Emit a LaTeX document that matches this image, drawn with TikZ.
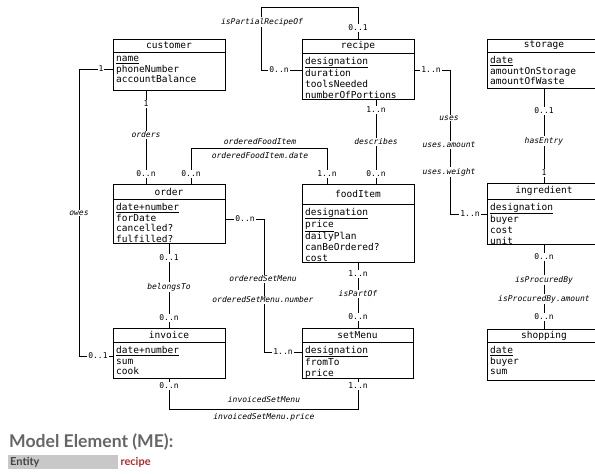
\documentclass[tikz,border=0pt]{standalone}
\usepackage{fontspec}
\setmonofont{DejaVu Sans Mono}
\newfontfamily\latofont{Lato}
\usetikzlibrary{calc}
\definecolor{headgray}{HTML}{666666}
\definecolor{entgray}{HTML}{C8C8C8}
\definecolor{enttext}{HTML}{444444}
\definecolor{recipered}{HTML}{B5292A}
\newcommand\umlbox[8]{%
  \node[entbox, minimum width={#4-#2}, minimum height={#6-#3}] (#1) at (#2,#3) {};
  \draw[line width=0.9pt] (#2,#5) -- (#4,#5);
  \node[boxtitle] at ({(#2+#4)/2},{(#3+#5)/2}) {#7};
  \node[attrs] at ({#2+3},{#5+3.8}) {#8};
}
\begin{document}
\begin{tikzpicture}[x=1pt,y=-1pt,
  boxtitle/.style={font=\ttfamily\fontsize{9.5}{11}\selectfont, inner sep=0pt},
  attrs/.style={font=\ttfamily\fontsize{9.5}{10.8}\selectfont, align=left, anchor=north west, inner sep=0pt},
  mult/.style={font=\ttfamily\fontsize{8}{9}\selectfont, fill=white, inner sep=1pt},
  rel/.style={font=\ttfamily\itshape\fontsize{8}{9}\selectfont, fill=white, inner sep=1pt},
  conn/.style={line width=0.8pt},
  entbox/.style={draw, line width=0.9pt, anchor=north west, inner sep=0pt}
]
\useasboundingbox (0,0) rectangle (595,474);
\clip (0,0) rectangle (595,474);

% boxes
\umlbox{customer}{113}{39}{225}{52}{90}{customer}{\underline{name}\\phoneNumber\\accountBalance}
\umlbox{recipe}{302}{39}{414}{53}{99}{recipe}{\underline{designation}\\duration\\toolsNeeded\\numberOfPortions}
\umlbox{storage}{487}{39}{601}{52}{88}{storage}{\underline{date}\\amountOnStorage\\amountOfWaste}
\umlbox{order}{113}{184}{225}{199}{243}{order}{\underline{date+number}\\forDate\\cancelled?\\fulfilled?}
\umlbox{foodItem}{302}{184}{414}{204}{262}{foodItem}{\underline{designation}\\\underline{price}\\dailyPlan\\canBeOrdered?\\cost}
\umlbox{ingredient}{487}{183}{601}{199}{244}{ingredient}{\underline{designation}\\buyer\\cost\\unit}
\umlbox{invoice}{113}{328}{225}{342}{378}{invoice}{\underline{date+number}\\sum\\cook}
\umlbox{setMenu}{302}{328}{413}{342}{378}{setMenu}{\underline{designation}\\fromTo\\price}
\umlbox{shopping}{487}{329}{601}{342}{380}{shopping}{\underline{date}\\buyer\\sum}

% attachment points
\coordinate (r-w) at ($(recipe.north west)+(0,31)$);
\coordinate (r-e) at ($(recipe.north east)+(0,31)$);
\coordinate (r-s) at ($(recipe.south west)+(74,0)$);
\coordinate (cu-s) at ($(customer.south west)+(33,0)$);
\coordinate (cu-w) at ($(customer.north west)+(0,30)$);
\coordinate (o-n2) at ($(order.north west)+(78,0)$);
\coordinate (o-e) at ($(order.north east)+(0,35)$);
\coordinate (f-n1) at ($(foodItem.north west)+(25,0)$);
\coordinate (in-w) at ($(ingredient.north west)+(0,31)$);
\coordinate (i-w) at ($(invoice.north west)+(0,28)$);
\coordinate (s-w) at ($(setMenu.north west)+(0,24)$);

% connectors
\draw[conn] (r-w) -- ++(-41,0) |- ($(recipe.north)+(0,-32)$) -- (recipe.north);
\draw[conn] (cu-s) -- (cu-s |- order.north);
\draw[conn] (o-n2) -- ++(0,-36) -| (f-n1);
\draw[conn] (cu-w) -- ++(-34,0) |- (i-w);
\draw[conn] (order.south) -- (invoice.north);
\draw[conn] (o-e) -- ++(38,0) |- (s-w);
\draw[conn] (r-s) -- (r-s |- foodItem.north);
\draw[conn] (r-e) -- ++(35,0) |- (in-w);
\draw[conn] (storage.south) -- (ingredient.north);
\draw[conn] (foodItem.south) -- (foodItem.south |- setMenu.north);
\draw[conn] (ingredient.south) -- (shopping.north);
\draw[conn] (invoice.south) -- ++(0,30) -| (setMenu.south);

% labels: isPartialRecipeOf
\node[rel] at (262,22) {isPartialRecipeOf};
\node[mult] at (279,70) {0..n};
\node[mult] at (358,28) {0..1};
% orders
\node[mult] at (146,104) {1};
\node[rel] at (146,135) {orders};
\node[mult] at (146,174) {0..n};
% orderedFoodItem
\node[mult] at (191,174) {0..n};
\node[mult] at (327,174) {1..n};
\node[rel] at (260,142) {orderedFoodItem};
\node[rel] at (260,156) {orderedFoodItem.date};
% owes
\node[mult] at (101,69) {1};
\node[rel] at (79,213) {owes};
\node[mult] at (98,356) {0..1};
% belongsTo
\node[mult] at (169,258) {0..1};
\node[rel] at (169,287) {belongsTo};
\node[mult] at (169,318) {0..n};
% orderedSetMenu
\node[mult] at (245,219) {0..n};
\node[rel] at (263,279) {orderedSetMenu};
\node[rel] at (263,300) {orderedSetMenu.number};
\node[mult] at (283,352) {1..n};
% describes
\node[mult] at (376,110) {1..n};
\node[rel] at (376,142) {describes};
\node[mult] at (376,174) {0..n};
% uses
\node[mult] at (431,70) {1..n};
\node[rel] at (449,118) {uses};
\node[rel] at (449,145) {uses.amount};
\node[rel] at (449,172) {uses.weight};
\node[mult] at (470,214) {1..n};
% hasEntry
\node[mult] at (544,111) {0..1};
\node[rel] at (544,141) {hasEntry};
\node[mult] at (544,173) {1};
% isPartOf
\node[mult] at (358,274) {1..n};
\node[rel] at (358,294) {isPartOf};
\node[mult] at (358,317) {0..n};
% isProcuredBy
\node[mult] at (544,257) {0..n};
\node[rel] at (544,280) {isProcuredBy};
\node[rel] at (544,299) {isProcuredBy.amount};
\node[mult] at (544,317) {0..n};
% invoicedSetMenu
\node[mult] at (169,386) {0..n};
\node[mult] at (358,386) {1..n};
\node[rel] at (264,400) {invoicedSetMenu};
\node[rel] at (264,417) {invoicedSetMenu.price};

% legend
\node[font=\latofont\bfseries\fontsize{17.6}{20}\selectfont, text=headgray, anchor=base west, inner sep=0pt] (me) at (9,447) {Model Element (ME):};
\node[fill=entgray, anchor=north west, minimum width=110pt, minimum height=14pt, text width=106pt, align=left, inner sep=2pt, text=enttext, font=\latofont\bfseries\fontsize{11}{13}\selectfont] (entity) at (8,455) {Entity};
\node[anchor=west, inner sep=2pt, text=recipered, font=\latofont\bfseries\fontsize{11}{13}\selectfont] (entval) at (entity.east) {recipe};
\end{tikzpicture}
\end{document}
